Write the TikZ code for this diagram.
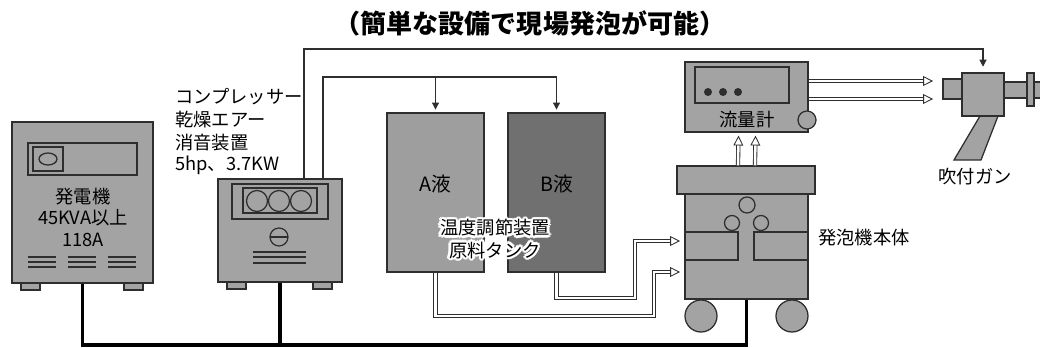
\documentclass[tikz,border=0pt]{standalone}
\usepackage{fontspec}
\setmainfont{Noto Sans CJK JP}
\usetikzlibrary{arrows.meta}
\usetikzlibrary{calc}
\usetikzlibrary{fit}

\definecolor{unitgray}{gray}{0.64}
\definecolor{tankAgray}{gray}{0.62}
\definecolor{tankBgray}{gray}{0.44}
\definecolor{edge}{gray}{0.18}

\begin{document}
\begin{tikzpicture}[x=0.025cm, y=-0.025cm,
    unit/.style={draw=edge, fill=unitgray, line width=0.9pt, inner sep=0pt},
    plain/.style={draw=edge, line width=0.9pt},
    air/.style={draw=edge, line width=0.8pt, -{Triangle[length=5pt,width=5pt]}},
    pipe/.style={draw=edge, double=white, double distance=1.8pt, line width=0.6pt, -{Triangle[open,length=7pt,width=7pt]}},
    cable/.style={line width=2.6pt, black},
    label/.style={font=\fontsize{13}{16}\selectfont, inner sep=0pt}]
  \useasboundingbox (0,0) rectangle (1040,348);

  % title
  \node[font=\bfseries\fontsize{18.5}{22}\selectfont] (title) at (530,23) {（簡単な設備で現場発泡が可能）};

  % generator
  \node[unit, fit={(12,122) (153,283)}] (gen) {};
  \draw[plain, fill=unitgray] (21,283) rectangle (40,290);
  \draw[plain, fill=unitgray] (124,283) rectangle (143,290);
  \draw[plain] (28,143) rectangle (137,175);
  \draw[plain] (33,147) rectangle (63,171);
  \draw[plain] (48,159) ellipse (9 and 6);
  \node[label] (genname) at (83,197) {発電機};
  \node[label] (genkva) at (83,218) {45KVA以上};
  \node[label] (genamp) at (83,240) {118A};
  \foreach \x in {28,68,108}
    \foreach \y in {257,262,267}
      \draw[plain] (\x,\y) -- +(28,0);

  % compressor
  \node[unit, fit={(218,179) (342,282)}] (comp) {};
  \draw[plain, fill=unitgray] (227,282) rectangle (246,289);
  \draw[plain, fill=unitgray] (313,282) rectangle (332,289);
  \draw[plain] (232,184) rectangle (328,219);
  \draw[plain] (243,188) rectangle (317,213);
  \foreach \x in {257,279,301}
    \draw[plain] (\x,201) circle (10.5);
  \draw[plain] (279,237) circle (9);
  \draw[plain] (270,237) -- (288,237);
  \foreach \y in {252,257,263}
    \draw[plain] (253,\y) -- (306,\y);
  \node[label, anchor=west] (comp1) at (175,97) {コンプレッサー};
  \node[label, anchor=west] (comp2) at (175,120) {乾燥エアー};
  \node[label, anchor=west] (comp3) at (175,143) {消音装置};
  \node[label, anchor=west] (comp4) at (175,165) {5hp、3.7KW};

  % raw material tanks
  \node[unit, fill=tankAgray, fit={(387,113) (484,272)}, font=\fontsize{14}{16}\selectfont] (tankA) {A液};
  \node[unit, fill=tankBgray, fit={(508,113) (605,272)}, font=\fontsize{14}{16}\selectfont] (tankB) {B液};
  % white halo behind the tank note
  \foreach \a in {0,30,...,330} {
    \node[label, white, shift={(\a:1.8pt)}, align=center] at (495,239) {温度調節装置\\原料タンク};
    \node[label, white, shift={(\a:0.9pt)}, align=center] at (495,239) {温度調節装置\\原料タンク};
  }
  \node[label, align=center] (tanknote) at (495,239) {温度調節装置\\原料タンク};

  % foaming unit
  \node[unit, fit={(685,194) (808,299)}] (foam) {};
  \node[unit, fit={(677,166) (815,194)}] (head) {};
  \draw[plain] (685,232) -- (738,232) -- (738,260) -- (685,260);
  \draw[plain] (808,232) -- (754,232) -- (754,260) -- (808,260);
  \draw[plain, fill=unitgray] (747,205) circle (8);
  \draw[plain, fill=unitgray] (732,223) circle (7.5);
  \draw[plain, fill=unitgray] (761,223) circle (7.5);
  \draw[plain, fill=unitgray] (701,316) circle (16);
  \draw[plain, fill=unitgray] (792,316) circle (16);
  \node[label, anchor=west] (foamname) at (818,238) {発泡機本体};

  % flow meter
  \node[unit, fit={(685,62) (808,132)}] (meter) {};
  \draw[plain] (695,67) rectangle (789,103);
  \foreach \x in {708,723,738}
    \fill[edge] (\x,92) circle (4);
  \node[label] (metername) at (747,120) {流量計};
  \draw[plain, fill=unitgray] (807,120) circle (9);

  % spray gun
  \node[unit, fit={(943,79) (962,99)}] (guntail) {};
  \draw[plain, fill=unitgray] (1004,82) rectangle (1046,98);
  \draw[plain, fill=unitgray] (1027,73) rectangle (1034,106);
  \draw[plain, fill=unitgray] (980,116) -- (998,116) -- (981,160) -- (954,160) -- cycle;
  \node[unit, fit={(962,73) (1004,116)}] (gunbody) {};
  \node[label] (gunname) at (975,177) {吹付ガン};

  % air lines
  \coordinate (airtop) at (0,49);
  \coordinate (feed) at (0,77);
  \draw[air, shorten >=4pt] ($(comp.north)+(24,0)$) |- (gunbody.north |- airtop) -- (gunbody.north);
  \draw[air, shorten >=2pt] ($(comp.north)+(43,0)$) |- (tankB.north |- feed) -- (tankB.north);
  \draw[air, shorten >=2pt] (tankA.north |- feed) -- (tankA.north);

  % material hoses
  \coordinate (inB) at (680,241);
  \coordinate (inA) at (680,272);
  \draw[pipe] (tankB.south) |- (635,298) |- (inB);
  \draw[pipe] (tankA.south) |- (654,316) |- (inA);
  \draw[pipe] ($(head.north)+(-8,0)$) -- ($(meter.south)+(-8,3)$);
  \draw[pipe] ($(head.north)+(9,0)$) -- ($(meter.south)+(9,3)$);
  \coordinate (nozzle1) at (933,81);
  \coordinate (nozzle2) at (933,99);
  \draw[pipe] (meter.east |- nozzle1) -- (nozzle1);
  \draw[pipe] (meter.east |- nozzle2) -- (nozzle2);

  % power cable
  \coordinate (ground) at (0,345);
  \draw[cable] (gen.south) -- (gen.south |- ground) -| (foam.south);
  \draw[cable] (comp.south) -- (comp.south |- ground);
\end{tikzpicture}
\end{document}
